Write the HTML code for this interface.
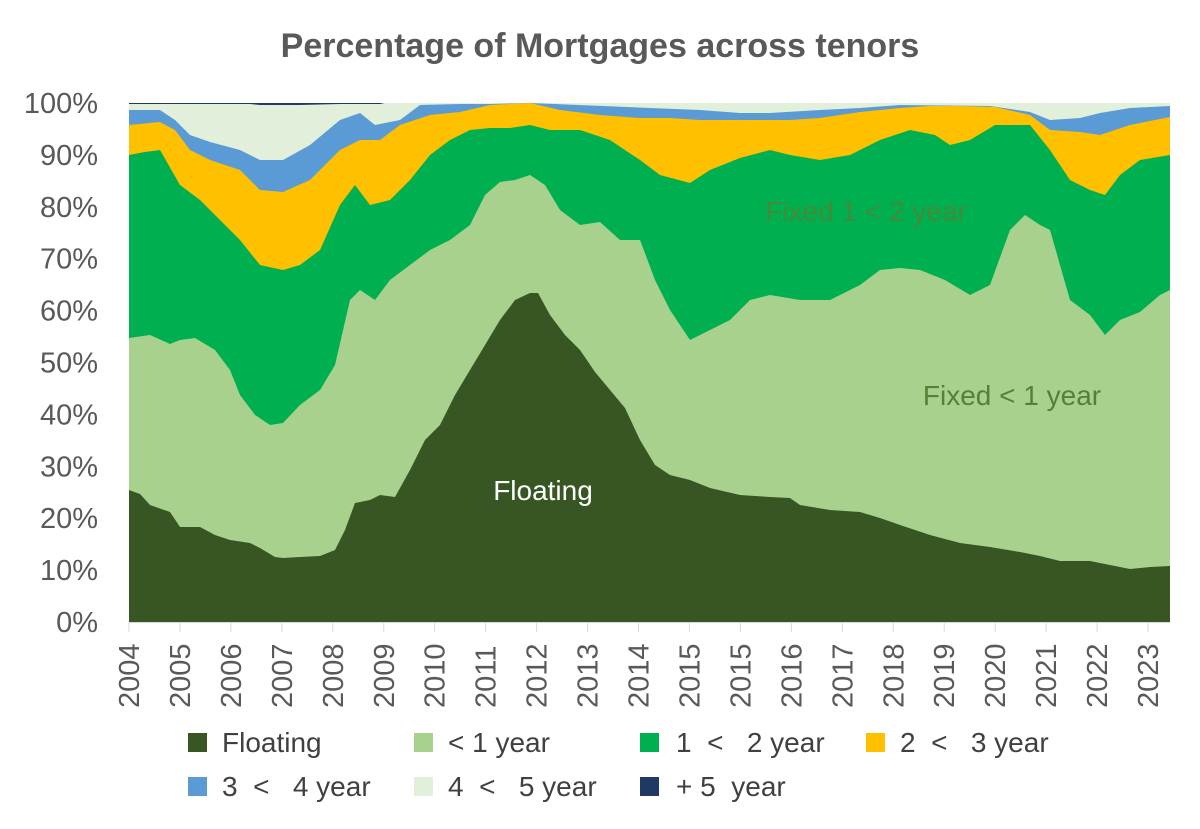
<!DOCTYPE html>
<html><head><meta charset="utf-8"><style>
body{margin:0;background:#fff;width:1200px;height:824px;overflow:hidden;font-family:"Liberation Sans",sans-serif;}
</style></head><body>
<svg id="s" width="1200" height="824" xmlns="http://www.w3.org/2000/svg" font-family="Liberation Sans, sans-serif">
<text x="600" y="57" text-anchor="middle" font-size="34" font-weight="bold" fill="#595959">Percentage of Mortgages across tenors</text>
<g id="areas"></g>
<g id="ylab" font-size="29" fill="#595959" text-anchor="end"></g>
<g id="xlab" font-size="29" fill="#595959"></g>
<text x="543" y="500" text-anchor="middle" font-size="28" fill="#fff">Floating</text>
<text x="1012" y="405" text-anchor="middle" font-size="28" fill="#548235">Fixed &lt; 1 year</text>
<text x="866" y="221" text-anchor="middle" font-size="28" fill="#548235" opacity="0.8">Fixed 1 &lt; 2 year</text>
<g font-size="28" fill="#404040">
<rect x="188" y="733" width="19" height="19" fill="#375623"/><text x="222" y="752">Floating</text>
<rect x="414" y="733" width="19" height="19" fill="#a9d18e"/><text x="448" y="752">&lt; 1 year</text>
<rect x="640" y="733" width="19" height="19" fill="#00b050"/><text x="676" y="752" xml:space="preserve">1  &lt;   2 year</text>
<rect x="866" y="733" width="19" height="19" fill="#ffc000"/><text x="900" y="752" xml:space="preserve">2  &lt;   3 year</text>
<rect x="188" y="777" width="19" height="19" fill="#5b9bd5"/><text x="222" y="796" xml:space="preserve">3  &lt;   4 year</text>
<rect x="414" y="777" width="19" height="19" fill="#e2efda"/><text x="448" y="796" xml:space="preserve">4  &lt;   5 year</text>
<rect x="640" y="777" width="19" height="19" fill="#203864"/><text x="676" y="796" xml:space="preserve">+ 5  year</text>
</g>
</svg>
<script>
var NS="http://www.w3.org/2000/svg";
function poly(pts,col){var p=document.createElementNS(NS,"path");
var d="M"+pts.map(function(q){return q[0]+","+q[1]}).join(" L")+" L1170,622 L129,622 Z";
p.setAttribute("d",d);p.setAttribute("fill",col);document.getElementById("areas").appendChild(p);}
function P(a){var r=[];for(var i=0;i<a.length;i+=2)r.push([a[i],a[i+1]]);return r;}
var r=document.createElementNS(NS,"rect");r.setAttribute("x",129);r.setAttribute("y",103);r.setAttribute("width",1041);r.setAttribute("height",519);r.setAttribute("fill","#e2efda");document.getElementById("areas").appendChild(r);
poly(P([129,103,250,103,255,103,380,103,385,104,1170,104]),"#203864");
poly(P([129,104,250,104,260,105,300,105,340,104,380,104,430,103,1170,103]),"#e2efda");
poly(P([129,110,160,110,175,120,190,135,210,142,240,150,260,160,283,160,310,145,340,120,360,113,375,125,400,120,420,105,460,104,490,104,530,103,700,110,740,113,770,113,820,110,860,108,900,105,990,106,1030,112,1050,120,1080,118,1100,113,1130,108,1170,106]),"#5b9bd5");
poly(P([129,125,160,122,175,130,190,150,210,160,240,170,260,190,283,192,310,180,340,150,360,140,380,140,400,125,430,115,460,112,490,105,530,103,560,110,600,115,640,118,670,118,700,120,740,120,790,120,820,118,860,112,900,108,930,106,960,106,995,107,1030,115,1050,130,1080,132,1100,135,1130,125,1170,117]),"#ffc000");
poly(P([129,155,145,152,160,150,180,185,200,200,220,220,240,240,260,265,283,270,300,265,320,250,340,205,355,185,370,205,390,200,410,180,430,155,450,140,470,130,490,128,510,128,530,125,550,130,580,130,610,140,640,160,660,175,690,183,710,170,740,158,770,150,790,155,820,160,850,155,880,140,910,130,935,135,950,145,970,140,995,125,1030,125,1050,150,1070,180,1090,190,1105,195,1120,175,1140,160,1170,155]),"#00b050");
poly(P([129,338,150,335,170,344,180,340,195,338,215,350,230,370,240,395,255,415,270,425,283,423,300,405,320,390,335,365,350,300,360,290,375,300,390,280,410,265,430,250,450,240,470,225,485,195,500,182,515,180,530,175,545,185,560,210,580,225,600,222,620,240,640,240,655,280,670,310,690,340,710,330,730,320,750,300,770,295,800,300,830,300,860,285,880,270,900,268,920,270,945,280,970,295,990,285,1010,230,1025,215,1040,225,1050,230,1070,300,1090,315,1105,335,1120,320,1140,312,1160,295,1170,290]),"#a9d18e");
poly(P([129,490,140,494,150,505,170,512,180,527,200,527,215,535,230,540,250,543,260,548,275,557,283,558,300,557,320,556,335,550,345,530,355,503,370,500,380,495,395,497,410,470,425,440,440,425,455,395,470,370,485,345,500,320,515,300,530,293,538,293,550,315,565,335,580,350,595,372,610,390,625,408,640,440,655,465,670,475,690,480,710,488,740,495,770,497,790,498,800,505,830,510,860,512,880,518,900,525,930,535,960,543,990,547,1020,552,1040,556,1060,561,1090,561,1110,565,1130,569,1150,567,1170,566]),"#375623");
var A=document.getElementById("areas");
var yl=document.getElementById("ylab");
for(var i=0;i<=10;i++){var t=document.createElementNS(NS,"text");t.setAttribute("x",98);t.setAttribute("y",622-i*51.9+10);t.textContent=(i*10)+"%";yl.appendChild(t);}
var ln=document.createElementNS(NS,"line");ln.setAttribute("x1",129);ln.setAttribute("x2",1170);ln.setAttribute("y1",622.5);ln.setAttribute("y2",622.5);ln.setAttribute("stroke","#d9d9d9");A.appendChild(ln);
var yrs=["2004","2005","2006","2007","2008","2009","2010","2011","2012","2013","2014","2015","2015","2016","2017","2018","2019","2020","2021","2022","2023"];
var xl=document.getElementById("xlab");
yrs.forEach(function(y,i){var x0=129+i*50.95;var tk=document.createElementNS(NS,"line");tk.setAttribute("x1",x0);tk.setAttribute("x2",x0);tk.setAttribute("y1",622);tk.setAttribute("y2",632);tk.setAttribute("stroke","#d9d9d9");A.appendChild(tk);
var t=document.createElementNS(NS,"text");t.setAttribute("transform","translate("+(x0+10)+",708) rotate(-90)");t.textContent=y;xl.appendChild(t);});
</script>
</body></html>
